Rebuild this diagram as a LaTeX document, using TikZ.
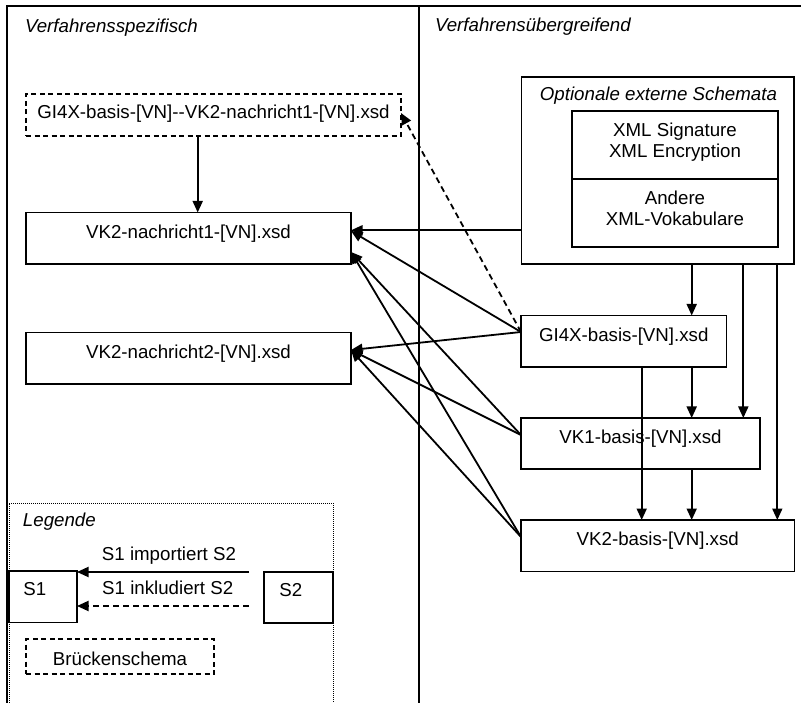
\documentclass[tikz,border=0pt]{standalone}
\usepackage{fontspec}
\setmainfont{Liberation Sans}
\usetikzlibrary{arrows.meta,calc}
\newcommand\fsz{\fontsize{18.7}{21.3}\selectfont}
\begin{document}
\begin{tikzpicture}[x=1pt,y=-1pt,
  every node/.style={font=\fsz, inner sep=0pt, outer sep=0pt},
  ital/.style={font=\fsz\itshape},
  box/.style={draw, line width=1.5pt, anchor=north west},
  dbox/.style={box, dash pattern=on 5pt off 3.5pt},
  arr/.style={line width=1.8pt, -{Triangle[length=11.5pt,width=10pt]}},
  darr/.style={arr, dash pattern=on 6pt off 4pt},
  dotline/.style={line width=0.9pt, dash pattern=on 1pt off 1pt},
  txt/.style={anchor=base}]
\useasboundingbox (0,0) rectangle (801,703);

% frame and divider
\draw[line width=2.2pt] (7.3,703) -- (7.3,6) -- (801,6);
\draw[line width=1.4pt] (419,6) -- (419,703);

\node[ital, anchor=base west] (tleft) at (25,32.3) {Verfahrensspezifisch};
\node[ital, anchor=base west] (tright) at (435,32) {Verfahrensübergreifend};

% left boxes
\node[dbox, minimum width=375pt, minimum height=42pt] (bridge) at (26,94) {};
\node[txt] (bridget) at ($(bridge.center)+(0,4)$) {GI4X-basis-[VN]-\kern0pt-VK2-nachricht1-[VN].xsd};

\node[box, minimum width=325pt, minimum height=51.5pt] (nach1) at (26,212.5) {};
\node[txt] (nach1t) at (nach1.center) {VK2-nachricht1-[VN].xsd};

\node[box, minimum width=325pt, minimum height=51.5pt] (nach2) at (26,332.5) {};
\node[txt] (nach2t) at (nach2.center) {VK2-nachricht2-[VN].xsd};

% right boxes
\node[box, minimum width=272.3pt, minimum height=187pt] (opt) at (521.7,77) {};
\node[ital, anchor=base] (optt) at ($(opt.north)+(0.6,23.5)$) {Optionale externe Schemata};

\node[box, minimum width=206pt, minimum height=68pt] (sig) at (572,111) {};
\node[anchor=north, align=center] (sigt) at ($(sig.north)+(0,12)$) {XML Signature\\XML Encryption};
\node[box, minimum width=206pt, minimum height=68pt] (voc) at (572,179) {};
\node[anchor=north, align=center] (voct) at ($(voc.north)+(0,11.7)$) {Andere\\XML-Vokabulare};

\node[box, minimum width=205.5pt, minimum height=51.5pt] (gi4x) at (521,315.5) {};
\node[txt] (gi4xt) at (gi4x.center) {GI4X-basis-[VN].xsd};

\node[box, minimum width=239pt, minimum height=51pt] (vk1) at (521,418) {};
\node[txt] (vk1t) at (vk1.center) {VK1-basis-[VN].xsd};

\node[box, minimum width=273.5pt, minimum height=51.7pt] (vk2b) at (521,520) {};
\node[txt] (vk2bt) at (vk2b.center) {VK2-basis-[VN].xsd};

% connectors
\draw[arr] ($(bridge.south)+(-15.8,0)$) -- ($(nach1.north)+(9.2,0)$);
\draw[arr] ($(opt.north west)+(0,153.3)$) -- ($(nach1.north east)+(0,17.8)$);
\draw[arr] ($(gi4x.north west)+(0,16.5)$) -- ($(nach1.north east)+(0,18.5)$);
\draw[arr] ($(vk1.north west)+(0,17)$) -- ($(nach1.north east)+(0,39.5)$);
\draw[arr] ($(vk2b.north west)+(0,17)$) -- ($(nach1.north east)+(0,39.5)$);
\draw[arr] ($(gi4x.north west)+(0,16.5)$) -- ($(nach2.north east)+(0,17.5)$);
\draw[arr] ($(vk1.north west)+(0,17)$) -- ($(nach2.north east)+(0,17.5)$);
\draw[arr] ($(vk2b.north west)+(0,17)$) -- ($(nach2.north east)+(0,17.5)$);
\draw[darr] ($(gi4x.north west)+(0,16.5)$) -- ($(bridge.north east)+(0,19)$);

\draw[arr] ($(opt.south west)+(170,0)$) -- ($(gi4x.north west)+(170.7,0)$);
\draw[arr] ($(opt.south west)+(221.6,0)$) -- ($(vk1.north west)+(222.3,0)$);
\draw[arr] ($(opt.south west)+(255.6,0)$) -- ($(vk2b.north west)+(256.3,0)$);
\draw[arr] ($(gi4x.south west)+(170.7,0)$) -- ($(vk1.north west)+(170.7,0)$);
\draw[arr] ($(gi4x.south west)+(120.7,0)$) -- ($(vk2b.north west)+(120.7,0)$);
\draw[arr] ($(vk1.south west)+(170.7,0)$) -- ($(vk2b.north west)+(170.7,0)$);

% legend
\draw[dotline] (9,703) -- (9,503) -- (333,503) -- (333,703);
\node[ital, anchor=base west] (leg) at (23,526.7) {Legende};
\node[box, minimum width=68pt, minimum height=51.5pt] (s1) at (9,571) {};
\node[anchor=base west] (s1t) at ($(s1.north west)+(14.3,24.7)$) {S1};
\node[box, minimum width=69pt, minimum height=51pt] (s2) at (264,572) {};
\node[anchor=base west] (s2t) at ($(s2.north west)+(15.3,24.7)$) {S2};
\coordinate (imp) at (249,572);
\coordinate (inc) at (249,606);
\draw[arr] (imp) -- (imp -| s1.east);
\draw[darr] (inc) -- (inc -| s1.east);
\node[txt] (impl) at (169,560) {S1 importiert S2};
\node[txt] (incl) at (167.7,594) {S1 inkludiert S2};
\node[dbox, minimum width=188pt, minimum height=35pt] (bs) at (26,639) {};
\node[txt] (bst) at ($(bs.center)+(0,8.5)$) {Brückenschema};
\end{tikzpicture}
\end{document}
